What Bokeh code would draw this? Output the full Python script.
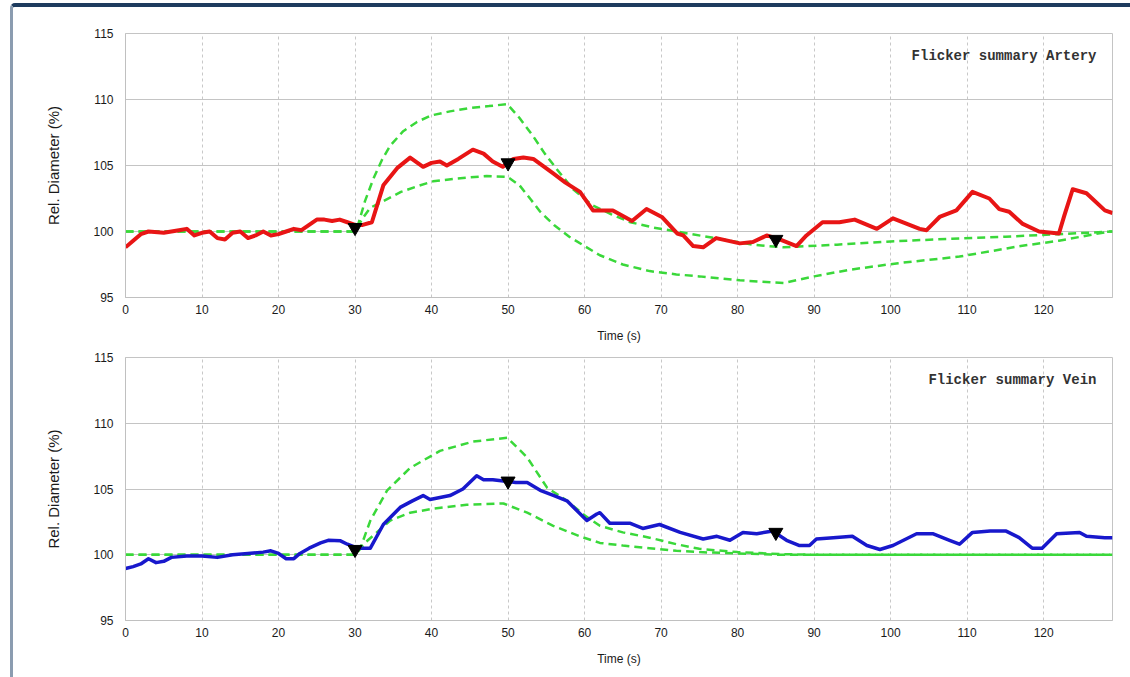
from bokeh.plotting import figure
from bokeh.layouts import column
from bokeh.models import Range1d, FixedTicker, Label
from bokeh.embed import file_html
from bokeh.resources import INLINE

# ---------------- data ----------------
x_ticks = [0, 10, 20, 30, 40, 50, 60, 70, 80, 90, 100, 110, 120]
y_ticks = [95, 100, 105, 110, 115]

art_t = [0, 1, 2, 3, 5, 7, 8, 9, 10, 11, 12, 13, 14, 15, 16, 17, 18, 19, 20, 21,
         22, 23, 24, 25, 26, 27, 28, 29, 30, 31, 32.2, 33.7, 35.5, 37.2, 38.9, 40, 41.1, 42, 43.5, 45.4,
         46.8, 48, 49.3, 50.7, 52, 53.3, 55.9, 57.5, 59.4, 61.1, 62, 63.7, 66.2, 68.1, 70.1, 72.1, 72.9,
         74.2, 75.5, 77.2, 80.3, 82, 83.8, 85.5, 87.7, 89, 91.1, 93.3, 95.3, 98.2, 100.3, 103.8, 104.7,
         106.4, 108.6, 110.7, 112.9, 114.2, 115.5, 117.2, 119.4, 122, 122.7, 123.8, 125.6, 128, 129]
art_v = [98.8, 99.3, 99.8, 100.0, 99.9, 100.1, 100.2, 99.7, 99.9, 100.0, 99.5, 99.4, 99.9, 100.0, 99.5,
         99.7, 100.0, 99.7, 99.8, 100.0, 100.2, 100.1, 100.5, 100.9, 100.9, 100.8, 100.9, 100.7, 100.5,
         100.5, 100.7, 103.5, 104.8, 105.6, 104.9, 105.2, 105.3, 105.0, 105.5, 106.2, 105.9, 105.3, 104.9,
         105.5, 105.6, 105.5, 104.4, 103.7, 103.0, 101.6, 101.6, 101.6, 100.8, 101.7, 101.1, 99.85, 99.7,
         98.9, 98.8, 99.5, 99.1, 99.2, 99.7, 99.4, 98.9, 99.7, 100.7, 100.7, 100.9, 100.2, 101.0, 100.2,
         100.1, 101.1, 101.6, 103.0, 102.5, 101.7, 101.5, 100.6, 100.0, 99.85, 101.2, 103.2, 102.9, 101.6,
         101.4]

art_up_t = [0, 30, 30.3, 31.3, 32.4, 33.5, 34.6, 36.3, 38.1, 40, 42.4, 45, 47.5, 49.9, 51.5, 53.3, 54.8,
            56.4, 58.5, 61, 63.5, 66, 69, 72, 77, 82, 86, 93, 100, 108, 115, 122, 129]
art_up_v = [100, 100, 100.3, 102.3, 104, 105.4, 106.5, 107.6, 108.3, 108.8, 109.1, 109.35, 109.5, 109.65,
            108.6, 107.2, 105.9, 104.7, 103.2, 102, 101.3, 100.7, 100.3, 100.0, 99.5, 99.0, 98.8, 99.0,
            99.25, 99.45, 99.6, 99.8, 100]
art_lo_t = [0, 30, 31, 32, 33.7, 36, 38, 40.2, 43, 47.2, 49.9, 51.5, 53, 54.2, 56, 58, 60, 62, 65, 68.5,
            72, 75, 80.3, 86, 90, 94.6, 101, 109, 117, 122, 128.6, 129]
art_lo_v = [100, 100, 101, 101.8, 102.3, 103, 103.4, 103.8, 104, 104.2, 104.15, 103.5, 102.4, 101.5,
            100.5, 99.6, 98.9, 98.2, 97.5, 97.0, 96.75, 96.6, 96.3, 96.1, 96.6, 97.1, 97.6, 98.1, 98.9,
            99.3, 100, 100]

vein_t = [0, 1, 2, 3, 4, 5, 6, 8, 10, 12, 14, 16, 18, 19, 20, 21, 22, 22.8, 24, 25.5, 26.5, 28.1, 29,
          30.3, 32, 33.7, 35.9, 37.5, 38.9, 39.8, 42.4, 44.1, 45.9, 46.8, 48, 49.4, 51, 52.5, 54.2, 56,
          57.7, 60.3, 61.6, 62, 63.3, 65.9, 67.6, 69.8, 72.5, 75.5, 77.3, 79, 80.7, 82.5, 84.6, 86.4,
          88.1, 89.4, 90.3, 92.5, 95, 96.9, 98.6, 100.3, 103.4, 105.5, 107.7, 109, 110.7, 113, 115.1,
          116.8, 118.5, 119.8, 121.7, 124.7, 125.6, 128, 129]
vein_v = [98.95, 99.1, 99.3, 99.7, 99.4, 99.5, 99.8, 99.9, 99.9, 99.8, 100.0, 100.1, 100.2, 100.3, 100.1,
          99.7, 99.7, 100.1, 100.5, 100.9, 101.1, 101.06, 100.8, 100.5, 100.5, 102.3, 103.6, 104.1, 104.5,
          104.2, 104.5, 105.0, 106.0, 105.7, 105.7, 105.6, 105.5, 105.5, 104.9, 104.5, 104.1, 102.6,
          103.1, 103.2, 102.4, 102.4, 102.0, 102.3, 101.7, 101.2, 101.4, 101.1, 101.7, 101.6, 101.8,
          101.1, 100.7, 100.7, 101.2, 101.3, 101.4, 100.7, 100.4, 100.7, 101.6, 101.6, 101.1, 100.8,
          101.7, 101.8, 101.8, 101.3, 100.5, 100.5, 101.6, 101.7, 101.4, 101.3, 101.3]

vein_up_t = [0, 30, 30.7, 32, 34.2, 37.2, 41.1, 45.4, 49.9, 52.5, 55.1, 57.7, 60, 62, 65, 68.5, 72, 75,
             80, 85.5, 90, 129]
vein_up_v = [100, 100, 100.5, 102.6, 104.9, 106.6, 107.9, 108.6, 108.9, 107.4, 105.1, 104.1, 103.0,
             102.2, 101.7, 101.3, 100.8, 100.45, 100.2, 100.05, 100, 100]
vein_lo_t = [0, 30, 31.6, 34.6, 37.2, 40.2, 44.6, 49.4, 52.5, 55.9, 59.4, 62, 65, 68.5, 72, 75, 80,
             85.5, 129]
vein_lo_v = [100, 100, 101.06, 102.6, 103.2, 103.5, 103.8, 103.9, 103.2, 102.2, 101.4, 100.9, 100.7,
             100.5, 100.3, 100.2, 100.1, 100, 100]

marker_t = [30, 50, 85]
art_marker_v = [100.3, 105.2, 99.4]
vein_marker_v = [100.4, 105.6, 101.7]

titles = ["Flicker summary Artery", "Flicker summary Vein"]
x_label = "Time (s)"
y_label = "Rel. Diameter (%)"

GREEN = "#3ad83a"
TICK_FONT = "Liberation Sans"


def make_panel(height, mb_top, mb_bottom, t, v, color, width_line, up_t, up_v, lo_t, lo_v, mk_v, title):
    p = figure(width=1117, height=height, output_backend="svg", toolbar_location=None,
               x_range=Range1d(0, 129), y_range=Range1d(95, 115),
               min_border_left=112, min_border_right=18,
               min_border_top=mb_top, min_border_bottom=mb_bottom,
               background_fill_color="white", border_fill_color="white")
    p.outline_line_color = "#c4c4c4"
    p.outline_line_width = 1
    # grids
    p.xgrid.ticker = FixedTicker(ticks=x_ticks)
    p.ygrid.ticker = FixedTicker(ticks=y_ticks)
    p.xgrid.grid_line_color = "#c8c8c8"
    p.xgrid.grid_line_dash = "3 3"
    p.ygrid.grid_line_color = "#c4c4c4"
    p.ygrid.grid_line_width = 1
    # axes
    p.xaxis.ticker = FixedTicker(ticks=x_ticks)
    p.yaxis.ticker = FixedTicker(ticks=y_ticks)
    for ax in (p.xaxis[0], p.yaxis[0]):
        ax.axis_line_color = "#c0c0c0"
        ax.major_tick_out = 0
        ax.major_tick_in = 0
        ax.minor_tick_out = 0
        ax.minor_tick_in = 0
        ax.major_label_text_font = TICK_FONT
        ax.major_label_text_font_size = "12px"
        ax.major_label_text_color = "#1a1a1a"
        ax.axis_label_text_font = TICK_FONT
        ax.axis_label_text_font_style = "normal"
        ax.axis_label_text_color = "#1a1a1a"
    p.xaxis.major_label_standoff = 7
    p.yaxis.major_label_standoff = 12
    p.xaxis.axis_label = x_label
    p.xaxis.axis_label_text_font_size = "12px"
    p.xaxis.axis_label_standoff = 12
    p.yaxis.axis_label = y_label
    p.yaxis.axis_label_text_font = TICK_FONT
    p.yaxis.axis_label_text_font_size = "15px"
    p.yaxis.axis_label_standoff = 28

    # model envelopes
    p.line(up_t, up_v, line_color=GREEN, line_width=2.5, line_dash="8 5")
    p.line(lo_t, lo_v, line_color=GREEN, line_width=2.5, line_dash="8 5")
    # measured diameter
    p.line(t, v, line_color=color, line_width=width_line, line_join="round")
    # markers
    p.scatter(marker_t, mk_v, marker="inverted_triangle", size=14, fill_color="black",
              line_color="black")
    lab = Label(x=126.9, y=113.3, text=title, text_align="right", text_baseline="middle",
                text_font="Liberation Mono", text_font_size="14px", text_font_style="bold",
                text_color="#333333")
    p.add_layout(lab)
    return p


p1 = make_panel(338, 26, 46, art_t, art_v, "#e81515", 4, art_up_t, art_up_v, art_lo_t, art_lo_v,
                art_marker_v, titles[0])
p2 = make_panel(332, 12, 57, vein_t, vein_v, "#1818cc", 3.5, vein_up_t, vein_up_v, vein_lo_t, vein_lo_v,
                vein_marker_v, titles[1])

layout = column(p1, p2, spacing=0,
                styles={"margin-left": "10px", "margin-top": "3px",
                        "border-top": "4px solid #1e3b5e", "border-left": "3px solid #8b9cb0",
                        "border-top-left-radius": "5px", "background-color": "white"})

open("out.html", "w").write(file_html(layout, INLINE))
